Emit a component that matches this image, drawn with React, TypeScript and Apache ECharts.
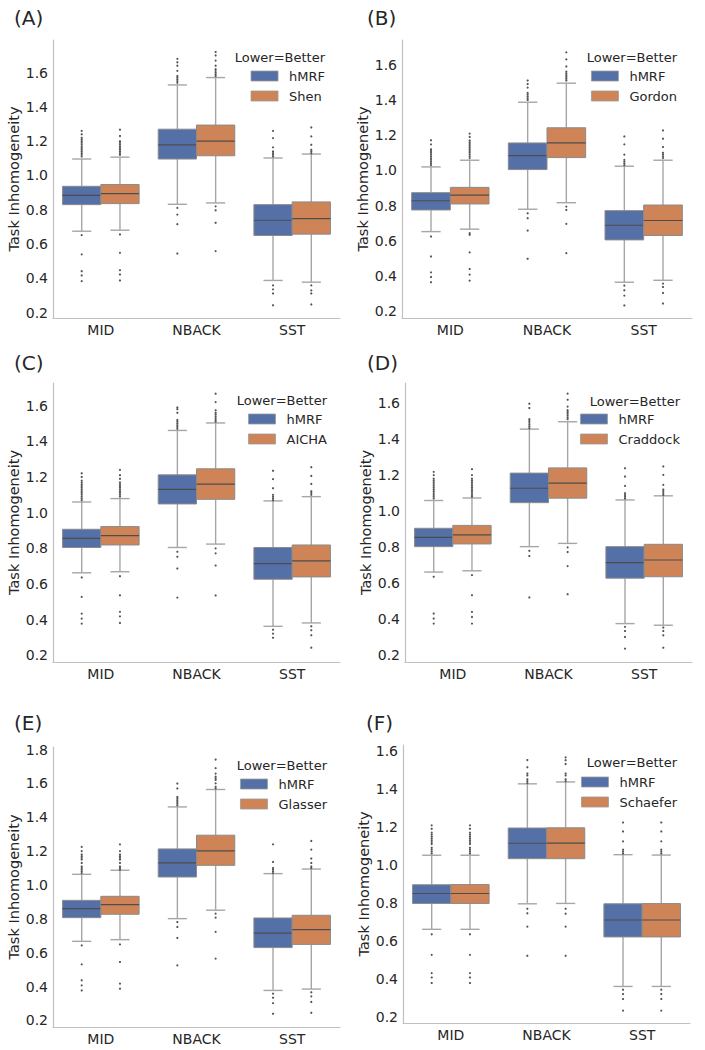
import React, { useEffect, useRef } from 'react';
import * as echarts from 'echarts';

// ---------- data ----------
const categories = ['MID', 'NBACK', 'SST'];
const panelLabels = ['(A)', '(B)', '(C)', '(D)', '(E)', '(F)'];
const reference = 'hMRF';
const comparators = ['Shen', 'Gordon', 'AICHA', 'Craddock', 'Glasser', 'Schaefer'];
const legendTitle = 'Lower=Better';
const yAxisTitle = 'Task Inhomogeneity';

const ticksTo16 = [0.2, 0.4, 0.6, 0.8, 1.0, 1.2, 1.4, 1.6];
const ticksTo18 = [0.2, 0.4, 0.6, 0.8, 1.0, 1.2, 1.4, 1.6, 1.8];

// y-axis limits per panel
const yRangeA = [0.169, 1.79];
const yRangeB = [0.163, 1.74];
const yRangeC = [0.163, 1.727];
const yRangeD = [0.163, 1.711];
const yRangeE = [0.161, 1.815];
const yRangeF = [0.17, 1.63];

// box stats per category: [lower whisker, Q1, median, Q3, upper whisker]
const hmrfBoxA = [[0.675, 0.830, 0.884, 0.937, 1.096], [0.832, 1.096, 1.179, 1.270, 1.528], [0.388, 0.650, 0.739, 0.830, 1.102]];
const shenBoxA = [[0.681, 0.836, 0.894, 0.947, 1.107], [0.840, 1.115, 1.200, 1.294, 1.571], [0.378, 0.658, 0.749, 0.846, 1.125]];
const hmrfOutA = [
  [1.11, 1.12, 1.13, 1.14, 1.15, 1.16, 1.17, 1.18, 1.19, 1.20, 1.21, 1.22, 1.24, 1.26, 0.652, 0.54, 0.442, 0.417, 0.384],
  [1.54, 1.55, 1.56, 1.57, 1.58, 1.61, 1.64, 1.66, 1.68, 0.811, 0.772, 0.716, 0.545],
  [1.11, 1.12, 1.13, 1.14, 1.164, 1.218, 1.26, 0.359, 0.336, 0.312, 0.243],
];
const shenOutA = [
  [1.12, 1.13, 1.14, 1.15, 1.16, 1.17, 1.18, 1.19, 1.20, 1.23, 1.267, 0.656, 0.549, 0.448, 0.423, 0.388],
  [1.58, 1.59, 1.60, 1.61, 1.62, 1.64, 1.67, 1.70, 1.72, 0.820, 0.797, 0.724, 0.559],
  [1.13, 1.14, 1.15, 1.179, 1.228, 1.28, 0.359, 0.330, 0.312, 0.248],
];

const hmrfBoxB = [[0.653, 0.776, 0.828, 0.874, 1.020], [0.780, 1.005, 1.084, 1.156, 1.387], [0.366, 0.606, 0.689, 0.772, 1.024]];
const gordonBoxB = [[0.667, 0.810, 0.860, 0.904, 1.058], [0.817, 1.073, 1.156, 1.242, 1.495], [0.377, 0.631, 0.716, 0.804, 1.058]];
const hmrfOutB = [
  [1.03, 1.04, 1.05, 1.06, 1.07, 1.08, 1.09, 1.10, 1.11, 1.12, 1.148, 1.171, 0.625, 0.512, 0.422, 0.396, 0.366],
  [1.40, 1.41, 1.42, 1.43, 1.44, 1.47, 1.49, 1.51, 0.757, 0.729, 0.659, 0.499],
  [1.03, 1.04, 1.05, 1.06, 1.09, 1.148, 1.193, 0.347, 0.320, 0.290, 0.234],
];
const gordonOutB = [
  [1.07, 1.08, 1.09, 1.10, 1.11, 1.12, 1.13, 1.14, 1.15, 1.16, 1.17, 1.19, 1.209, 0.644, 0.635, 0.535, 0.441, 0.409, 0.375],
  [1.51, 1.52, 1.53, 1.54, 1.55, 1.56, 1.59, 1.63, 1.67, 0.795, 0.776, 0.697, 0.531],
  [1.07, 1.08, 1.09, 1.10, 1.133, 1.180, 1.227, 0.358, 0.339, 0.305, 0.245],
];

const hmrfBoxC = [[0.663, 0.805, 0.856, 0.907, 1.060], [0.805, 1.049, 1.131, 1.212, 1.461], [0.363, 0.627, 0.715, 0.805, 1.066]];
const aichaBoxC = [[0.669, 0.819, 0.871, 0.922, 1.079], [0.824, 1.075, 1.160, 1.246, 1.503], [0.382, 0.640, 0.730, 0.819, 1.090]];
const hmrfOutC = [
  [1.07, 1.08, 1.09, 1.10, 1.11, 1.12, 1.13, 1.14, 1.15, 1.16, 1.17, 1.18, 1.20, 1.221, 0.637, 0.528, 0.434, 0.406, 0.378],
  [1.47, 1.48, 1.49, 1.50, 1.51, 1.52, 1.56, 1.58, 1.59, 0.781, 0.753, 0.687, 0.524],
  [1.07, 1.08, 1.09, 1.10, 1.137, 1.188, 1.235, 0.344, 0.322, 0.299, 0.238],
];
const aichaOutC = [
  [1.09, 1.10, 1.11, 1.12, 1.13, 1.14, 1.15, 1.16, 1.17, 1.19, 1.21, 1.24, 0.644, 0.537, 0.444, 0.419, 0.382],
  [1.51, 1.52, 1.53, 1.54, 1.55, 1.56, 1.574, 1.62, 1.667, 0.800, 0.772, 0.704, 0.536],
  [1.10, 1.11, 1.12, 1.161, 1.206, 1.255, 0.363, 0.341, 0.313, 0.243],
];

const hmrfBoxD = [[0.662, 0.803, 0.855, 0.905, 1.059], [0.803, 1.047, 1.127, 1.211, 1.455], [0.376, 0.628, 0.714, 0.803, 1.062]];
const craddockBoxD = [[0.669, 0.818, 0.868, 0.921, 1.073], [0.821, 1.072, 1.155, 1.240, 1.496], [0.367, 0.636, 0.729, 0.816, 1.085]];
const hmrfOutD = [
  [1.07, 1.08, 1.09, 1.10, 1.11, 1.12, 1.13, 1.14, 1.15, 1.16, 1.17, 1.18, 1.20, 1.218, 0.636, 0.528, 0.432, 0.404, 0.376],
  [1.46, 1.47, 1.48, 1.49, 1.50, 1.51, 1.572, 1.596, 0.780, 0.751, 0.682, 0.521],
  [1.07, 1.08, 1.09, 1.10, 1.140, 1.192, 1.238, 0.358, 0.335, 0.302, 0.237],
];
const craddockOutD = [
  [1.08, 1.09, 1.10, 1.11, 1.12, 1.13, 1.14, 1.15, 1.16, 1.17, 1.18, 1.20, 1.233, 0.645, 0.534, 0.441, 0.413, 0.376],
  [1.51, 1.52, 1.53, 1.54, 1.55, 1.56, 1.58, 1.618, 1.652, 0.799, 0.773, 0.695, 0.539],
  [1.09, 1.10, 1.11, 1.12, 1.146, 1.201, 1.248, 0.354, 0.335, 0.311, 0.242],
];

const hmrfBoxE = [[0.667, 0.807, 0.860, 0.909, 1.063], [0.801, 1.047, 1.130, 1.213, 1.461], [0.377, 0.630, 0.716, 0.805, 1.067]];
const glasserBoxE = [[0.677, 0.827, 0.884, 0.933, 1.087], [0.851, 1.116, 1.201, 1.294, 1.564], [0.385, 0.649, 0.736, 0.821, 1.094]];
const hmrfOutE = [
  [1.07, 1.08, 1.09, 1.10, 1.11, 1.12, 1.13, 1.14, 1.15, 1.16, 1.17, 1.18, 1.20, 1.225, 0.643, 0.531, 0.437, 0.407, 0.377],
  [1.47, 1.48, 1.49, 1.50, 1.51, 1.52, 1.57, 1.599, 0.781, 0.752, 0.687, 0.525],
  [1.07, 1.08, 1.09, 1.10, 1.136, 1.189, 1.240, 0.358, 0.334, 0.302, 0.239],
];
const glasserOutE = [
  [1.09, 1.10, 1.11, 1.12, 1.13, 1.14, 1.15, 1.16, 1.17, 1.18, 1.20, 1.24, 0.649, 0.545, 0.450, 0.417, 0.387],
  [1.57, 1.58, 1.59, 1.60, 1.61, 1.62, 1.63, 1.64, 1.658, 1.69, 1.741, 0.831, 0.807, 0.723, 0.565],
  [1.10, 1.11, 1.12, 1.13, 1.156, 1.209, 1.260, 0.366, 0.342, 0.309, 0.245],
];

const hmrfBoxF = [[0.662, 0.798, 0.850, 0.896, 1.051], [0.796, 1.033, 1.114, 1.194, 1.426], [0.362, 0.622, 0.711, 0.796, 1.054]];
const schaeferBoxF = [[0.662, 0.798, 0.850, 0.897, 1.051], [0.798, 1.033, 1.115, 1.195, 1.436], [0.362, 0.622, 0.711, 0.797, 1.052]];
const hmrfOutF = [
  [1.06, 1.07, 1.08, 1.09, 1.10, 1.11, 1.12, 1.13, 1.14, 1.15, 1.16, 1.17, 1.19, 1.208, 0.636, 0.528, 0.432, 0.409, 0.380],
  [1.43, 1.44, 1.45, 1.46, 1.47, 1.48, 1.513, 1.551, 0.770, 0.746, 0.676, 0.523],
  [1.06, 1.07, 1.08, 1.124, 1.176, 1.223, 0.345, 0.322, 0.296, 0.235],
];
const schaeferOutF = [
  [1.06, 1.07, 1.08, 1.09, 1.10, 1.11, 1.12, 1.13, 1.14, 1.15, 1.16, 1.17, 1.19, 1.208, 0.636, 0.528, 0.432, 0.409, 0.380],
  [1.44, 1.45, 1.46, 1.47, 1.48, 1.53, 1.55, 1.565, 0.770, 0.744, 0.676, 0.523],
  [1.06, 1.07, 1.08, 1.124, 1.176, 1.223, 0.345, 0.322, 0.296, 0.235],
];

// ---------- styles / layout ----------
const FONT = 'DejaVu Sans';
const TEXT = '#262626';
const BLUE = '#5470a6';
const ORANGE = '#cf8458';
const EDGE = '#8a8a8a';
const WHISKER = '#a6a6a6';
const MEDIAN = '#4d4d4d';
const FLIER = '#555555';
const AXIS = '#c0c0c0';

const panelData = [
  { hBox: hmrfBoxA, cBox: shenBoxA, hOut: hmrfOutA, cOut: shenOutA, yRange: yRangeA, ticks: ticksTo16 },
  { hBox: hmrfBoxB, cBox: gordonBoxB, hOut: hmrfOutB, cOut: gordonOutB, yRange: yRangeB, ticks: ticksTo16 },
  { hBox: hmrfBoxC, cBox: aichaBoxC, hOut: hmrfOutC, cOut: aichaOutC, yRange: yRangeC, ticks: ticksTo16 },
  { hBox: hmrfBoxD, cBox: craddockBoxD, hOut: hmrfOutD, cOut: craddockOutD, yRange: yRangeD, ticks: ticksTo16 },
  { hBox: hmrfBoxE, cBox: glasserBoxE, hOut: hmrfOutE, cOut: glasserOutE, yRange: yRangeE, ticks: ticksTo18 },
  { hBox: hmrfBoxF, cBox: schaeferBoxF, hOut: hmrfOutF, cOut: schaeferOutF, yRange: yRangeF, ticks: ticksTo16 },
];

const layout = [
  { grid: { left: 53, top: 40, width: 287, height: 278 }, labelX: 14, labelY: 20, legRight: 380, legTitleY: 57, legTop: 69.5 },
  { grid: { left: 402, top: 40, width: 290, height: 278 }, labelX: 367, labelY: 20, legRight: 28, legTitleY: 57, legTop: 69.5 },
  { grid: { left: 53, top: 383, width: 287, height: 279 }, labelX: 14, labelY: 365, legRight: 378, legTitleY: 400, legTop: 412.5 },
  { grid: { left: 405, top: 383, width: 287, height: 279 }, labelX: 367, labelY: 365, legRight: 25, legTitleY: 401, legTop: 412.5 },
  { grid: { left: 53, top: 747, width: 287, height: 280 }, labelX: 14, labelY: 725, legRight: 378, legTitleY: 765, legTop: 777.5 },
  { grid: { left: 403, top: 745, width: 287, height: 278 }, labelX: 366, labelY: 725, legRight: 28, legTitleY: 762, legTop: 775.5 },
];

function makeBoxRender(side: number, fill: string) {
  return function (_params: any, api: any) {
    const cat = api.value(0);
    const band = api.size([1, 0])[0];
    const mid = api.coord([cat, api.value(3)]);
    const cx = mid[0] + (side === 0 ? -0.2 : 0.2) * band;
    const w = band * 0.4;
    const yLo = api.coord([cat, api.value(1)])[1];
    const yQ1 = api.coord([cat, api.value(2)])[1];
    const yMed = mid[1];
    const yQ3 = api.coord([cat, api.value(4)])[1];
    const yHi = api.coord([cat, api.value(5)])[1];
    const ws = { stroke: WHISKER, lineWidth: 1.4 };
    return {
      type: 'group',
      children: [
        { type: 'line', shape: { x1: cx, y1: yHi, x2: cx, y2: yQ3 }, style: ws },
        { type: 'line', shape: { x1: cx, y1: yQ1, x2: cx, y2: yLo }, style: ws },
        { type: 'line', shape: { x1: cx - w / 4, y1: yHi, x2: cx + w / 4, y2: yHi }, style: ws },
        { type: 'line', shape: { x1: cx - w / 4, y1: yLo, x2: cx + w / 4, y2: yLo }, style: ws },
        { type: 'rect', shape: { x: cx - w / 2, y: yQ3, width: w, height: yQ1 - yQ3 }, style: { fill, stroke: EDGE, lineWidth: 1 } },
        { type: 'line', shape: { x1: cx - w / 2, y1: yMed, x2: cx + w / 2, y2: yMed }, style: { stroke: MEDIAN, lineWidth: 1.2 } },
      ],
    };
  };
}

function flierRender(_params: any, api: any) {
  const cat = api.value(0);
  const side = api.value(1);
  const band = api.size([1, 0])[0];
  const p = api.coord([cat, api.value(2)]);
  const cx = p[0] + (side === 0 ? -0.2 : 0.2) * band;
  return { type: 'circle', shape: { cx, cy: p[1], r: 1.1 }, style: { fill: FLIER } };
}

function buildOption() {
  const grid: any[] = [];
  const xAxis: any[] = [];
  const yAxis: any[] = [];
  const series: any[] = [];
  const legend: any[] = [];
  const graphic: any[] = [];

  panelData.forEach((pd, i) => {
    const lay = layout[i];
    const comp = comparators[i];
    grid.push({ ...lay.grid, containLabel: false });
    xAxis.push({
      type: 'category',
      gridIndex: i,
      data: categories,
      axisLine: { show: true, lineStyle: { color: AXIS, width: 1.2 } },
      axisTick: { show: false },
      axisLabel: { fontFamily: FONT, fontSize: 14, color: TEXT, margin: 5 },
      splitLine: { show: false },
    });
    yAxis.push({
      type: 'value',
      gridIndex: i,
      min: pd.yRange[0],
      max: pd.yRange[1],
      name: yAxisTitle,
      nameLocation: 'middle',
      nameRotate: 90,
      nameGap: 23,
      nameTextStyle: { fontFamily: FONT, fontSize: 14.5, color: TEXT },
      axisLine: { show: true, lineStyle: { color: AXIS, width: 1.2 } },
      axisTick: { show: false },
      splitLine: { show: false },
      axisLabel: {
        fontFamily: FONT,
        fontSize: 14,
        color: TEXT,
        margin: 5,
        customValues: pd.ticks,
        formatter: (v: number) => v.toFixed(1),
      },
    });
    series.push({
      type: 'custom',
      name: reference,
      xAxisIndex: i,
      yAxisIndex: i,
      itemStyle: { color: BLUE },
      encode: { x: 0, y: [1, 2, 3, 4, 5] },
      data: pd.hBox.map((s, c) => [c, ...s]),
      renderItem: makeBoxRender(0, BLUE),
    });
    series.push({
      type: 'custom',
      name: comp,
      xAxisIndex: i,
      yAxisIndex: i,
      itemStyle: { color: ORANGE },
      encode: { x: 0, y: [1, 2, 3, 4, 5] },
      data: pd.cBox.map((s, c) => [c, ...s]),
      renderItem: makeBoxRender(1, ORANGE),
    });
    const fliers: number[][] = [];
    pd.hOut.forEach((vals, c) => vals.forEach((v) => fliers.push([c, 0, v])));
    pd.cOut.forEach((vals, c) => vals.forEach((v) => fliers.push([c, 1, v])));
    series.push({
      type: 'custom',
      name: 'outliers ' + panelLabels[i],
      xAxisIndex: i,
      yAxisIndex: i,
      encode: { x: 0, y: 2 },
      data: fliers,
      renderItem: flierRender,
    });
    legend.push({
      orient: 'vertical',
      right: lay.legRight,
      top: lay.legTop,
      padding: 0,
      itemGap: 7,
      itemWidth: 27,
      itemHeight: 10,
      icon: 'rect',
      selectedMode: false,
      textStyle: { fontFamily: FONT, fontSize: 13, color: TEXT, padding: [0, 0, 0, 6] },
      data: [
        { name: reference, itemStyle: { color: BLUE, borderColor: '#9a9a9a', borderWidth: 0.8 } },
        { name: comp, itemStyle: { color: ORANGE, borderColor: '#9a9a9a', borderWidth: 0.8 } },
      ],
    });
    graphic.push({
      type: 'text',
      left: lay.labelX,
      top: lay.labelY - 12,
      style: { text: panelLabels[i], font: `20px "${FONT}"`, fill: TEXT },
    });
    graphic.push({
      type: 'text',
      x: 705 - lay.legRight,
      y: lay.legTitleY,
      style: { text: legendTitle, font: `13px "${FONT}"`, fill: TEXT, align: 'right', verticalAlign: 'middle' },
    });
  });

  return {
    animation: false,
    backgroundColor: '#ffffff',
    grid,
    xAxis,
    yAxis,
    series,
    legend,
    graphic,
  };
}

export default function App() {
  const ref = useRef<HTMLDivElement>(null);
  useEffect(() => {
    if (!ref.current) return;
    const chart = echarts.init(ref.current, null, { renderer: 'svg' });
    chart.setOption(buildOption() as any);
    return () => chart.dispose();
  }, []);
  return (
    <div
      ref={ref}
      style={{ position: 'absolute', left: 0, top: 0, width: 705, height: 1050, background: '#fff' }}
    />
  );
}
